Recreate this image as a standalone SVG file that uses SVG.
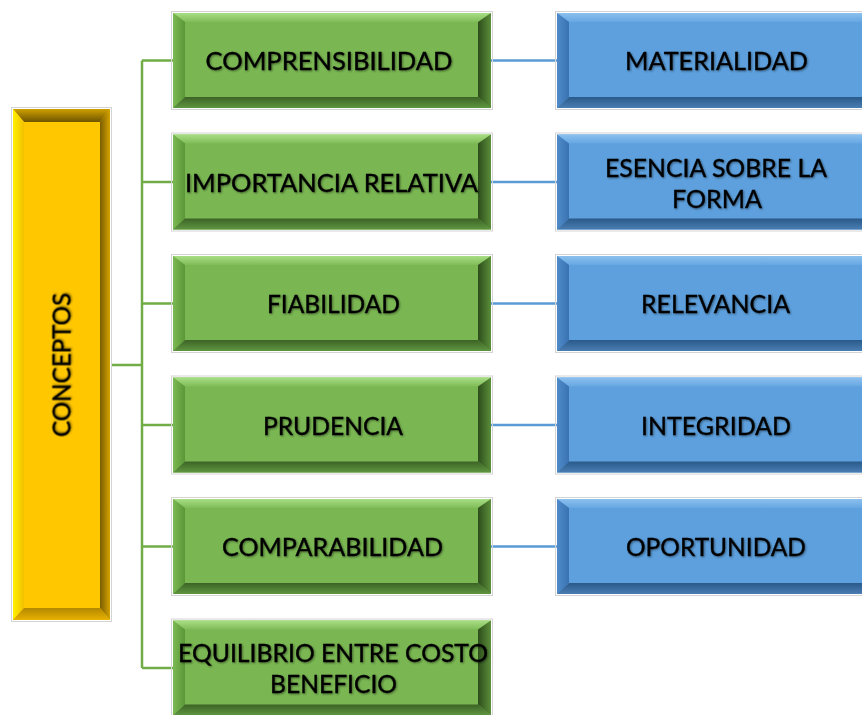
<svg xmlns="http://www.w3.org/2000/svg" width="862" height="715" viewBox="0 0 862 715">
<defs>
<style>
.t{font-family:Lato,"Liberation Sans",sans-serif;font-size:25px;fill:#000;text-anchor:middle;stroke:#000;stroke-width:0.35;filter:url(#sh)}
.lg{fill:none;stroke:#70AD47;stroke-width:2.5}
.lb{fill:none;stroke:#5B9BD5;stroke-width:2.5}
.fr{fill:none;stroke:#d4d4d4;stroke-width:1}
.gF{fill:#7AB752}.gT{fill:url(#gT)}.gL{fill:url(#gL)}.gR{fill:url(#gR)}.gB{fill:url(#gB)}
.bF{fill:#5DA0DD}.bT{fill:url(#bT)}.bL{fill:url(#bL)}.bR{fill:url(#bR)}.bB{fill:url(#bB)}
.yF{fill:#FFC700}.yT{fill:url(#yT)}.yL{fill:url(#yL)}.yR{fill:url(#yR)}.yB{fill:url(#yB)}
</style>
<filter id="sh" x="-5%" y="-30%" width="110%" height="160%">
<feGaussianBlur in="SourceAlpha" stdDeviation="0.9" result="b"/>
<feOffset in="b" dx="0.6" dy="0.8" result="o"/>
<feComponentTransfer in="o" result="s"><feFuncA type="linear" slope="0.45"/></feComponentTransfer>
<feMerge><feMergeNode in="s"/><feMergeNode in="SourceGraphic"/></feMerge>
</filter>
<linearGradient id="gT" x1="0" y1="0" x2="0" y2="1"><stop offset="0" stop-color="#a8de85"/><stop offset="1" stop-color="#80bc58"/></linearGradient>
<linearGradient id="gL" x1="0" y1="0" x2="1" y2="0"><stop offset="0" stop-color="#7cba54"/><stop offset="1" stop-color="#5a9637"/></linearGradient>
<linearGradient id="gR" x1="0" y1="0" x2="1" y2="0"><stop offset="0" stop-color="#2e4d1c"/><stop offset="1" stop-color="#5a8f3a"/></linearGradient>
<linearGradient id="gB" x1="0" y1="0" x2="0" y2="1"><stop offset="0" stop-color="#3c6326"/><stop offset="1" stop-color="#5f9640"/></linearGradient>
<linearGradient id="bT" x1="0" y1="0" x2="0" y2="1"><stop offset="0" stop-color="#8cc0ee"/><stop offset="1" stop-color="#66a7e2"/></linearGradient>
<linearGradient id="bL" x1="0" y1="0" x2="1" y2="0"><stop offset="0" stop-color="#4f8bca"/><stop offset="1" stop-color="#3a72b0"/></linearGradient>
<linearGradient id="bR" x1="0" y1="0" x2="1" y2="0"><stop offset="0" stop-color="#23507d"/><stop offset="1" stop-color="#4277ae"/></linearGradient>
<linearGradient id="bB" x1="0" y1="0" x2="0" y2="1"><stop offset="0" stop-color="#2a5a8a"/><stop offset="1" stop-color="#4a7db3"/></linearGradient>
<linearGradient id="yT" x1="0" y1="0" x2="0" y2="1"><stop offset="0" stop-color="#d0a000"/><stop offset="1" stop-color="#6e5400"/></linearGradient>
<linearGradient id="yL" x1="0" y1="0" x2="1" y2="0"><stop offset="0" stop-color="#fff000"/><stop offset="1" stop-color="#f2c000"/></linearGradient>
<linearGradient id="yR" x1="0" y1="0" x2="1" y2="0"><stop offset="0" stop-color="#7a5d00"/><stop offset="1" stop-color="#d4a200"/></linearGradient>
<linearGradient id="yB" x1="0" y1="0" x2="0" y2="1"><stop offset="0" stop-color="#b38800"/><stop offset="1" stop-color="#e8b200"/></linearGradient>
</defs>
<rect width="862" height="715" fill="#fff"/>

<g id="connectors">
<path class="lg" d="M111,365H142M142,60.5V668M142,60.5H173M142,182H173M142,303.5H173M142,425H173M142,546.5H173M142,668H173"/>
<path class="lb" d="M491,60.5H557M491,182H557M491,303.5H557M491,425H557M491,546.5H557"/>
</g>

<g id="conceptos" transform="translate(13,109)">
<rect class="fr" x="-1.5" y="-1.5" width="100" height="514"/>
<rect class="yF" width="97" height="511"/>
<polygon class="yT" points="0,0 97,0 87,13 11,13"/>
<polygon class="yL" points="0,0 11,13 11,499 0,511"/>
<polygon class="yR" points="97,0 97,511 87,499 87,13"/>
<polygon class="yB" points="0,511 97,511 87,499 11,499"/>
<text class="t" x="48.5" y="265" transform="rotate(-90 48.5 256)" textLength="144" lengthAdjust="spacingAndGlyphs">CONCEPTOS</text>
</g>

<g id="comprensibilidad" transform="translate(173,13)">
<rect class="fr" x="-1.5" y="-1.5" width="321" height="98"/>
<rect class="gF" width="318" height="95"/>
<polygon class="gT" points="0,0 318,0 305,9 12,9"/>
<polygon class="gL" points="0,0 12,9 12,84 0,95"/>
<polygon class="gR" points="318,0 318,95 305,84 305,9"/>
<polygon class="gB" points="0,95 318,95 305,84 12,84"/>
<text class="t" x="156" y="57" textLength="247" lengthAdjust="spacingAndGlyphs">COMPRENSIBILIDAD</text>
</g>

<g id="importancia" transform="translate(173,134.5)">
<rect class="fr" x="-1.5" y="-1.5" width="321" height="98"/>
<rect class="gF" width="318" height="95"/>
<polygon class="gT" points="0,0 318,0 305,9 12,9"/>
<polygon class="gL" points="0,0 12,9 12,84 0,95"/>
<polygon class="gR" points="318,0 318,95 305,84 305,9"/>
<polygon class="gB" points="0,95 318,95 305,84 12,84"/>
<text class="t" x="158.5" y="57" textLength="293" lengthAdjust="spacingAndGlyphs">IMPORTANCIA RELATIVA</text>
</g>

<g id="fiabilidad" transform="translate(173,256)">
<rect class="fr" x="-1.5" y="-1.5" width="321" height="98"/>
<rect class="gF" width="318" height="95"/>
<polygon class="gT" points="0,0 318,0 305,9 12,9"/>
<polygon class="gL" points="0,0 12,9 12,84 0,95"/>
<polygon class="gR" points="318,0 318,95 305,84 305,9"/>
<polygon class="gB" points="0,95 318,95 305,84 12,84"/>
<text class="t" x="160.5" y="57" textLength="133" lengthAdjust="spacingAndGlyphs">FIABILIDAD</text>
</g>

<g id="prudencia" transform="translate(173,377.5)">
<rect class="fr" x="-1.5" y="-1.5" width="321" height="98"/>
<rect class="gF" width="318" height="95"/>
<polygon class="gT" points="0,0 318,0 305,9 12,9"/>
<polygon class="gL" points="0,0 12,9 12,84 0,95"/>
<polygon class="gR" points="318,0 318,95 305,84 305,9"/>
<polygon class="gB" points="0,95 318,95 305,84 12,84"/>
<text class="t" x="160" y="57" textLength="140" lengthAdjust="spacingAndGlyphs">PRUDENCIA</text>
</g>

<g id="comparabilidad" transform="translate(173,499)">
<rect class="fr" x="-1.5" y="-1.5" width="321" height="98"/>
<rect class="gF" width="318" height="95"/>
<polygon class="gT" points="0,0 318,0 305,9 12,9"/>
<polygon class="gL" points="0,0 12,9 12,84 0,95"/>
<polygon class="gR" points="318,0 318,95 305,84 305,9"/>
<polygon class="gB" points="0,95 318,95 305,84 12,84"/>
<text class="t" x="159.5" y="57" textLength="221" lengthAdjust="spacingAndGlyphs">COMPARABILIDAD</text>
</g>

<g id="equilibrio" transform="translate(173,620.5)">
<rect class="fr" x="-1.5" y="-1.5" width="321" height="98"/>
<rect class="gF" width="318" height="95"/>
<polygon class="gT" points="0,0 318,0 305,9 12,9"/>
<polygon class="gL" points="0,0 12,9 12,84 0,95"/>
<polygon class="gR" points="318,0 318,95 305,84 305,9"/>
<polygon class="gB" points="0,95 318,95 305,84 12,84"/>
<text class="t" x="160" y="41" textLength="310" lengthAdjust="spacingAndGlyphs">EQUILIBRIO ENTRE COSTO</text>
<text class="t" x="160.5" y="72.5" textLength="127" lengthAdjust="spacingAndGlyphs">BENEFICIO</text>
</g>

<g id="materialidad" transform="translate(557,13)">
<rect class="fr" x="-1.5" y="-1.5" width="321" height="98"/>
<rect class="bF" width="318" height="95"/>
<polygon class="bT" points="0,0 318,0 305,9 12,9"/>
<polygon class="bL" points="0,0 12,9 12,84 0,95"/>
<polygon class="bR" points="318,0 318,95 305,84 305,9"/>
<polygon class="bB" points="0,95 318,95 305,84 12,84"/>
<text class="t" x="159.5" y="57" textLength="183" lengthAdjust="spacingAndGlyphs">MATERIALIDAD</text>
</g>

<g id="esencia" transform="translate(557,134.5)">
<rect class="fr" x="-1.5" y="-1.5" width="321" height="98"/>
<rect class="bF" width="318" height="95"/>
<polygon class="bT" points="0,0 318,0 305,9 12,9"/>
<polygon class="bL" points="0,0 12,9 12,84 0,95"/>
<polygon class="bR" points="318,0 318,95 305,84 305,9"/>
<polygon class="bB" points="0,95 318,95 305,84 12,84"/>
<text class="t" x="159" y="42" textLength="222" lengthAdjust="spacingAndGlyphs">ESENCIA SOBRE LA</text>
<text class="t" x="160" y="73.5" textLength="90" lengthAdjust="spacingAndGlyphs">FORMA</text>
</g>

<g id="relevancia" transform="translate(557,256)">
<rect class="fr" x="-1.5" y="-1.5" width="321" height="98"/>
<rect class="bF" width="318" height="95"/>
<polygon class="bT" points="0,0 318,0 305,9 12,9"/>
<polygon class="bL" points="0,0 12,9 12,84 0,95"/>
<polygon class="bR" points="318,0 318,95 305,84 305,9"/>
<polygon class="bB" points="0,95 318,95 305,84 12,84"/>
<text class="t" x="158.5" y="57" textLength="149" lengthAdjust="spacingAndGlyphs">RELEVANCIA</text>
</g>

<g id="integridad" transform="translate(557,377.5)">
<rect class="fr" x="-1.5" y="-1.5" width="321" height="98"/>
<rect class="bF" width="318" height="95"/>
<polygon class="bT" points="0,0 318,0 305,9 12,9"/>
<polygon class="bL" points="0,0 12,9 12,84 0,95"/>
<polygon class="bR" points="318,0 318,95 305,84 305,9"/>
<polygon class="bB" points="0,95 318,95 305,84 12,84"/>
<text class="t" x="159" y="57" textLength="150" lengthAdjust="spacingAndGlyphs">INTEGRIDAD</text>
</g>

<g id="oportunidad" transform="translate(557,499)">
<rect class="fr" x="-1.5" y="-1.5" width="321" height="98"/>
<rect class="bF" width="318" height="95"/>
<polygon class="bT" points="0,0 318,0 305,9 12,9"/>
<polygon class="bL" points="0,0 12,9 12,84 0,95"/>
<polygon class="bR" points="318,0 318,95 305,84 305,9"/>
<polygon class="bB" points="0,95 318,95 305,84 12,84"/>
<text class="t" x="159" y="57" textLength="180" lengthAdjust="spacingAndGlyphs">OPORTUNIDAD</text>
</g>
</svg>
